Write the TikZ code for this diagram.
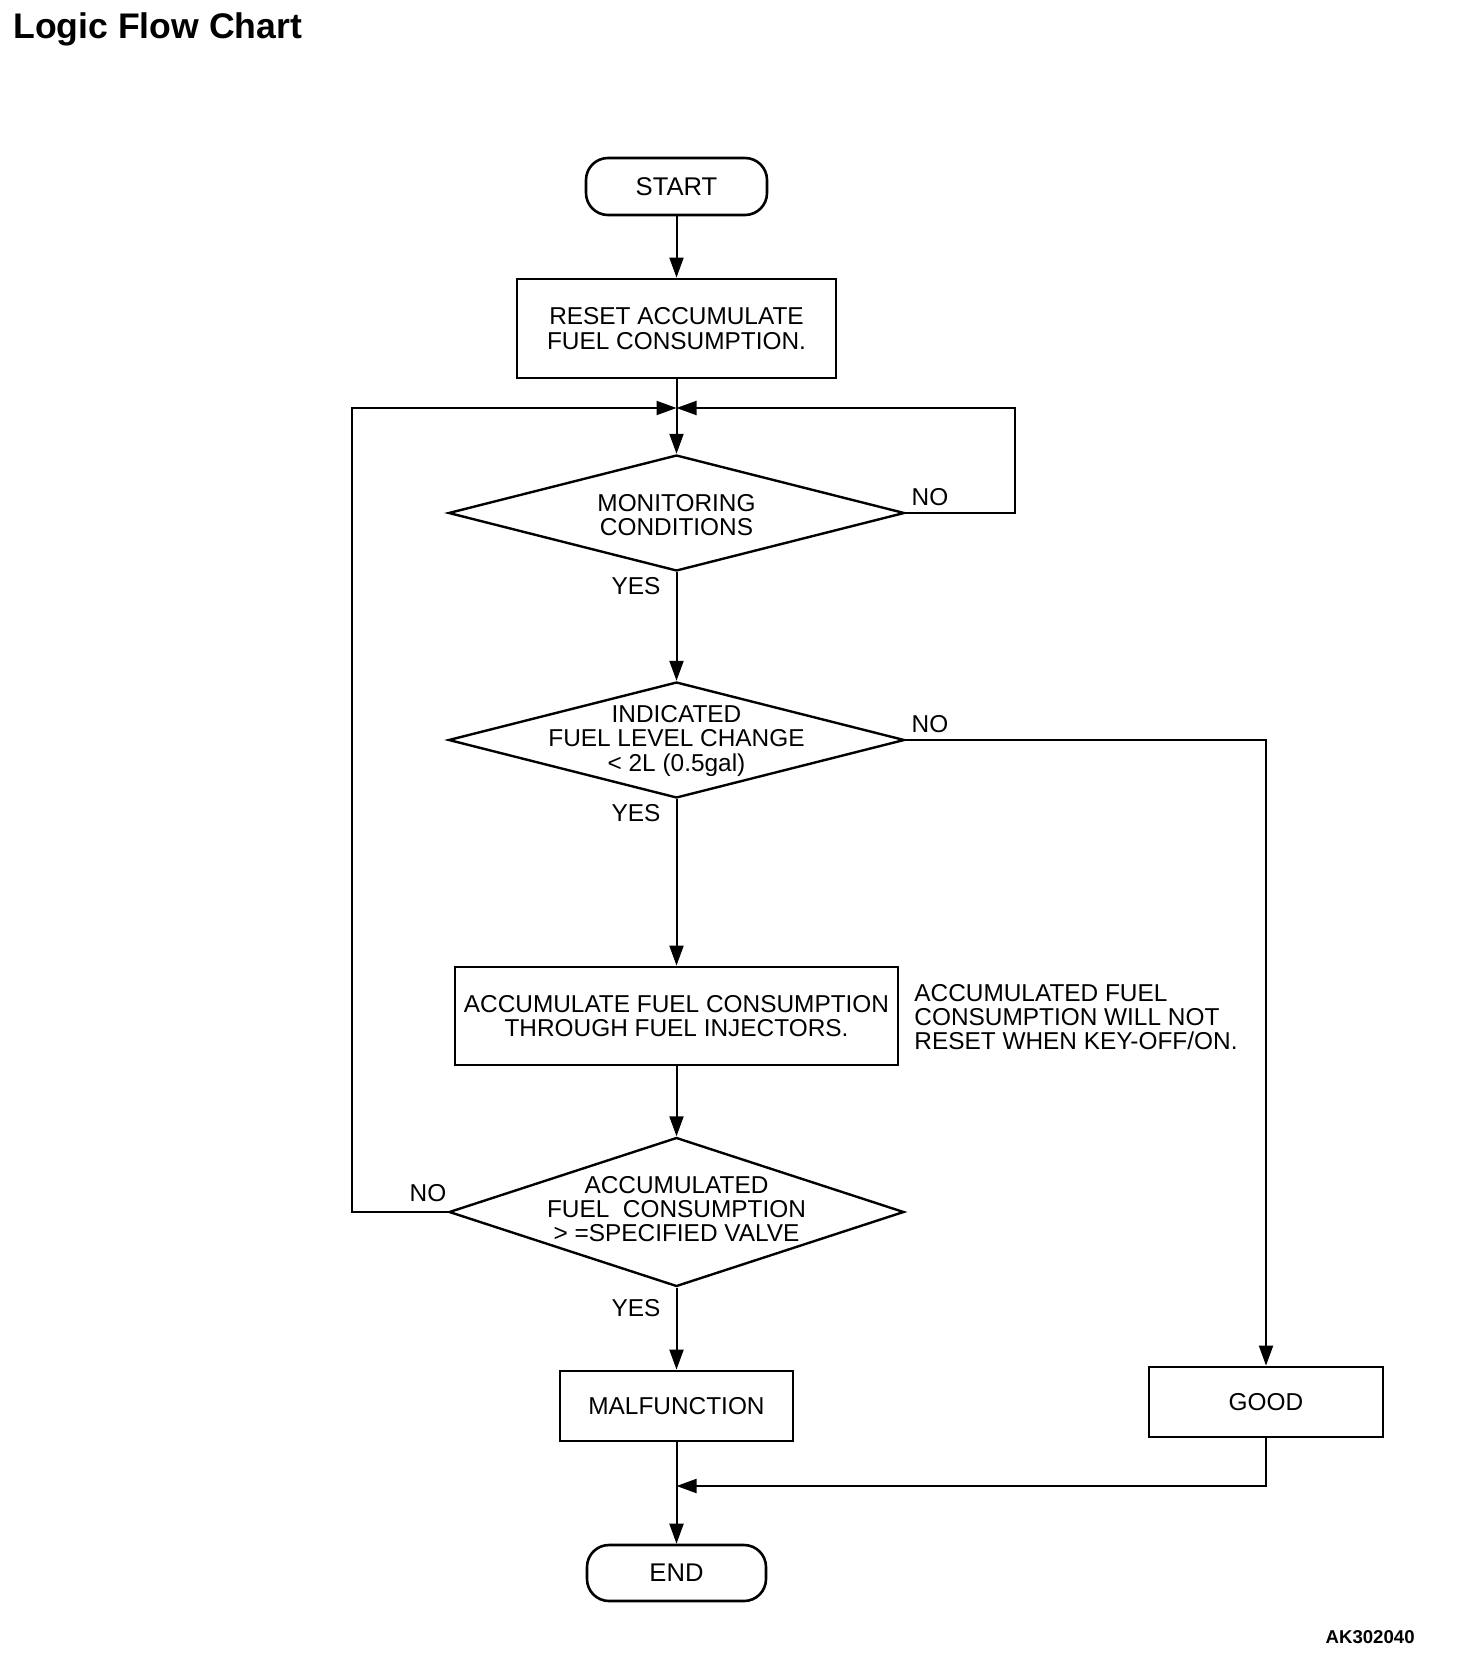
\documentclass[tikz,border=0pt]{standalone}
\usepackage{fontspec}
\setmainfont{Liberation Sans}
\usetikzlibrary{positioning}
\usetikzlibrary{arrows.meta,shapes.geometric}
\usetikzlibrary{calc}

\newcommand{\chartfont}{\fontsize{12.2}{12.2}\selectfont}

\begin{document}
\begin{tikzpicture}[x=0.5pt, y=-0.5pt,
  term/.style={draw, line width=1.3pt, rounded corners=11pt, minimum width=90.5pt, minimum height=28.5pt, inner sep=0pt, font=\fontsize{12.8}{13}\selectfont},
  box/.style={draw, line width=1.4pt, inner sep=0pt, align=center, font=\chartfont},
  dia/.style={draw, diamond, line width=1.2pt, inner sep=0pt},
  txt/.style={inner sep=0pt, align=center, font=\chartfont},
  flow/.style={line width=1pt, -{Triangle[length=10pt,width=7pt]}}]

 \useasboundingbox (0,0) rectangle (1456,1658);

 %title
 \node[anchor=base west, inner sep=0pt, font=\fontsize{17.8}{20}\selectfont\bfseries] (title) at (13,39) {Logic Flow Chart};
 \node[anchor=base east, inner sep=0pt, font=\fontsize{9.3}{11}\selectfont\bfseries] (code) at (1415,1643) {AK302040};

 %main column
 \def\cx{676.5}
 \node[term] (start) at (\cx,186.5) {START};
 \node[box, minimum width=159.5pt, minimum height=49.5pt] (reset) at (\cx,328.5) {RESET ACCUMULATE\\FUEL CONSUMPTION.};

 \node[dia, minimum width=228pt, minimum height=58pt] (mon) at (\cx,513) {};
 \node[txt] (montx) at ($(mon)+(0,2)$) {MONITORING\\CONDITIONS};

 \node[dia, minimum width=228pt, minimum height=58pt] (ind) at (\cx,740) {};
 \node[txt] (indtx) at ($(ind)+(0,1)$) {INDICATED\\FUEL LEVEL CHANGE\\< 2L (0.5gal)};

 \node[box, minimum width=221.5pt, minimum height=49pt] (acc) at (\cx,1016) {ACCUMULATE FUEL CONSUMPTION\\THROUGH FUEL INJECTORS.};
 \node[txt, anchor=west, align=left] (note) at (914,1017) {ACCUMULATED FUEL\\CONSUMPTION WILL NOT\\RESET WHEN KEY-OFF/ON.};

 \node[dia, minimum width=227.5pt, minimum height=74.5pt] (cmp) at (\cx,1212) {};
 \node[txt] (cmptx) at ($(cmp)+(0,-3)$) {ACCUMULATED\\FUEL\ \ CONSUMPTION\\> =SPECIFIED VALVE};

 \node[box, minimum width=116.5pt, minimum height=35pt] (mal) at (\cx,1406) {MALFUNCTION};
 \node[box, minimum width=117pt, minimum height=35pt] (good) at (1266,1402) {GOOD};
 \node[term, minimum width=89.5pt, minimum height=28pt] (end) at (\cx,1573) {END};

 %branch labels
 \foreach \y/\nm in {586/ymon, 813/yind, 1308/ycmp} {
   \node[txt] (\nm) at (636,\y) {YES};
 }
 \foreach \x/\y/\nm in {930/497/nmon, 930/724/nind, 428/1193/ncmp} {
   \node[txt] (\nm) at (\x,\y) {NO};
 }

 %connectors
 \coordinate (jn) at (\cx,408);
 \coordinate (lft) at (352,408);
 \coordinate (rgt) at (1015,408);
 \coordinate (mrg) at (\cx,1486);

 \draw[flow] (start) -- (reset);
 \draw[flow] (reset) -- (mon.north);
 \draw[flow] (mon.east) -| (rgt) -- (jn);
 \draw[flow] (cmp.west) -| (lft) -- (jn);
 \draw[flow] (mon.south) -- (ind.north);
 \draw[flow] (ind.south) -- (acc.north);
 \draw[flow] (acc.south) -- (cmp.north);
 \draw[flow] (cmp.south) -- (mal.north);
 \draw[flow] (ind.east) -| (good.north);
 \draw[flow] (mal.south) -- (end.north);
 \draw[flow] (good.south) |- (mrg);

\end{tikzpicture}
\end{document}
